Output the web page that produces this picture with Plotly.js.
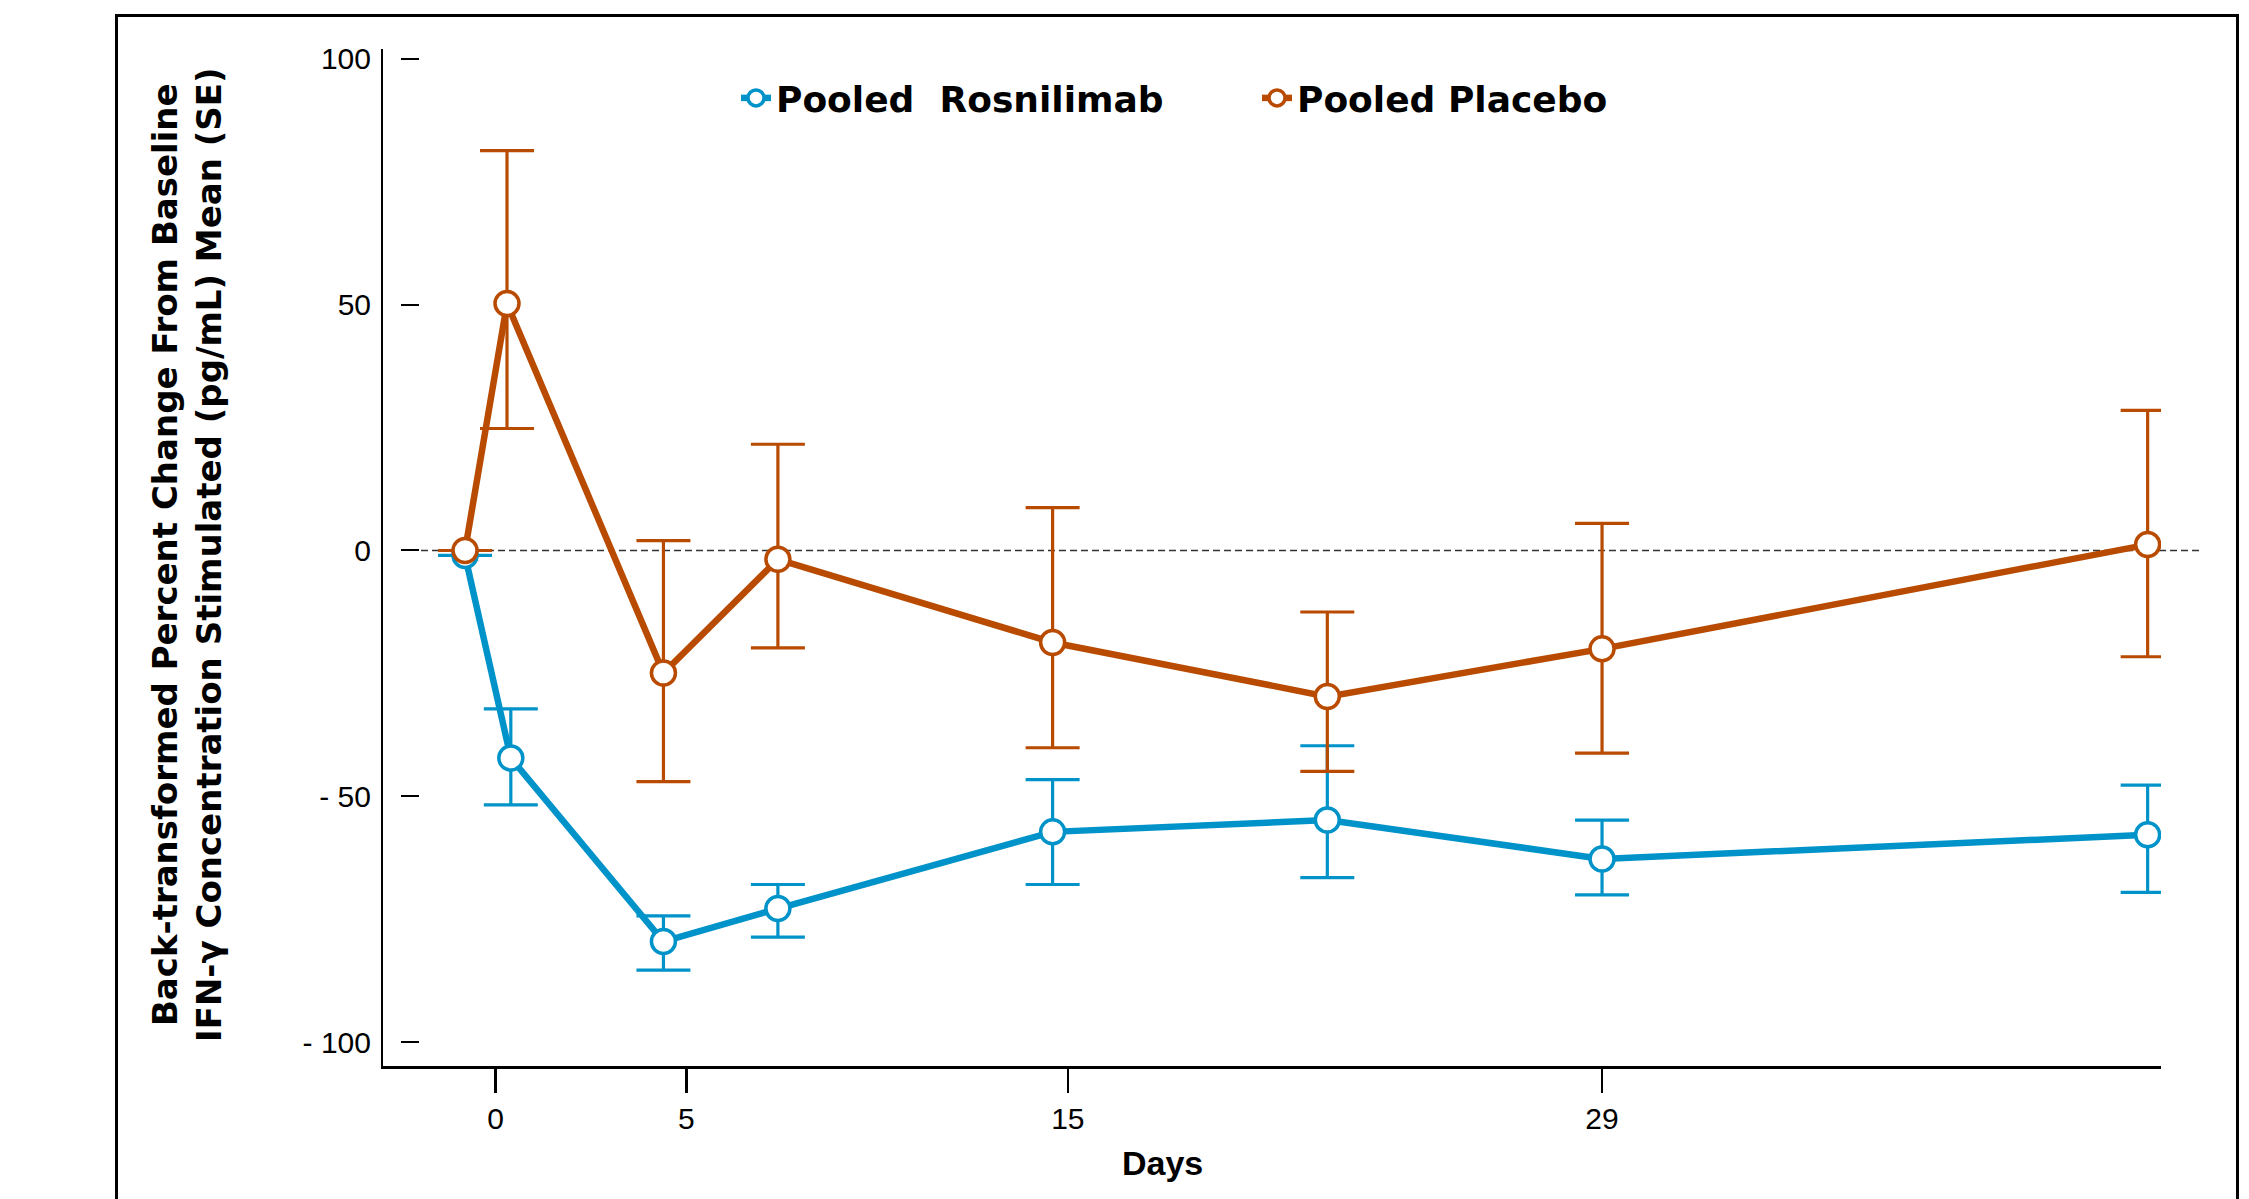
<!DOCTYPE html>
<html><head><meta charset="utf-8">
<script src="https://cdn.plot.ly/plotly-3.0.1.min.js"></script>
<style>
html,body{margin:0;padding:0;background:#fff;overflow:hidden}
#chart{width:2249px;height:1199px;position:absolute;left:0;top:0}
#frame{position:absolute;left:115px;top:14px;width:2124px;height:1300px;border:3px solid #000;border-bottom:none;box-sizing:border-box;pointer-events:none}
</style></head><body>
<div id="chart"></div><div id="frame"></div>
<script>
// ---- data ----
const seriesNames = ['Pooled\u00a0 Rosnilimab', 'Pooled Placebo'];
const daysRos  = [-0.8, 0.4, 4.4, 7.4, 14.6, 21.8, 29.0, 43.3];
const meanRos  = [-1.0, -42.2, -79.5, -72.8, -57.2, -54.8, -62.7, -57.8];
const upperRos = [-1.0, -32.2, -74.3, -67.9, -46.6, -39.7, -54.8, -47.7];
const lowerRos = [-1.0, -51.7, -85.3, -78.6, -67.9, -66.5, -70.0, -69.5];
const daysPla  = [-0.8, 0.3, 4.4, 7.4, 14.6, 21.8, 29.0, 43.3];
const meanPla  = [0.0, 50.2, -24.9, -1.8, -18.7, -29.7, -20.0, 1.2];
const upperPla = [0.0, 81.3, 2.0, 21.6, 8.7, -12.5, 5.5, 28.5];
const lowerPla = [0.0, 24.8, -47.0, -19.8, -40.1, -44.9, -41.2, -21.6];
const xTickVals = [0, 5, 15, 29];
const xTickText = ['0', '5', '15', '29'];
const yTickVals = [-100, -50, 0, 50, 100];
const yTickText = ['- 100', '- 50', '0', '50', '100'];
const xTitle = 'Days';
const yTitle = 'Back-transformed Percent Change From Baseline<br>IFN-\u03b3 Concentration Stimulated (pg/mL) Mean (SE)';

// ---- styling ----
const W = 2249, H = 1199;
const L = 383, R = 2161, T = 49, B = 1066;
const px2x = p => (p - L) / (R - L);
const px2y = p => (B - p) / (B - T);
const blue = '#0093C9', orange = '#B94B00';
const xRange = [-2.95, 43.65];
const yRange = [-104.8, 101.95];

function diff(a, b) { return a.map((v, i) => Math.abs(v - b[i])); }

function series(name, x, m, up, lo, color) {
  return {
    type: 'scatter', mode: 'lines+markers', name: name,
    x: x, y: m,
    line: {color: color, width: 6.5},
    marker: {symbol: 'circle', size: 24, color: '#ffffff', line: {color: color, width: 3.5}},
    error_y: {type: 'data', symmetric: false, array: diff(up, m), arrayminus: diff(m, lo),
              color: color, thickness: 3.2, width: 27},
    hoverinfo: 'x+y'
  };
}

const traces = [
  series(seriesNames[0], daysRos, meanRos, upperRos, lowerRos, blue),
  series(seriesNames[1], daysPla, meanPla, upperPla, lowerPla, orange),
  {type: 'scatter', mode: 'markers', x: [null], y: [null], yaxis: 'y2', showlegend: false, hoverinfo: 'skip'}
];

const tickFont = {family: 'Liberation Sans, Arial, sans-serif', size: 30, color: '#000'};

const layout = {
  width: W, height: H,
  margin: {l: L, r: W - R, t: T, b: H - B, pad: 0},
  paper_bgcolor: '#fff', plot_bgcolor: 'rgba(0,0,0,0)',
  showlegend: true,
  legend: {
    orientation: 'h', x: px2x(736), y: px2y(68), xanchor: 'left', yanchor: 'top',
    font: {family: 'DejaVu Sans, Verdana, sans-serif', size: 36, color: '#000', weight: 'bold'},
    entrywidth: 476, entrywidthmode: 'pixels',
    bgcolor: 'rgba(0,0,0,0)', borderwidth: 0, traceorder: 'normal'
  },
  xaxis: {
    range: xRange, autorange: false, showline: true, linecolor: '#000', linewidth: 2.5,
    ticks: 'outside', ticklen: 24, tickwidth: 2.5, tickcolor: '#000',
    tickvals: xTickVals, ticktext: xTickText, tickfont: tickFont,
    showgrid: false, zeroline: false, mirror: false
  },
  yaxis: {
    range: yRange, autorange: false, showline: true, linecolor: '#000', linewidth: 2,
    ticks: '', tickvals: yTickVals, ticktext: yTickText, tickfont: tickFont,
    ticklabelstandoff: 4,
    showgrid: false, zeroline: false
  },
  yaxis2: {
    overlaying: 'y', anchor: 'free', position: px2x(400), side: 'left',
    range: yRange, autorange: false, showline: false,
    ticks: 'inside', ticklen: 18, tickwidth: 2, tickcolor: '#000',
    tickvals: yTickVals, showticklabels: false, showgrid: false, zeroline: false
  },
  shapes: [{
    type: 'line', xref: 'paper', yref: 'y', x0: px2x(421), x1: px2x(2200), y0: 0, y1: 0,
    line: {color: '#333', width: 1.5, dash: '7px,4px'}, layer: 'below'
  }],
  annotations: [
    {text: xTitle, xref: 'paper', yref: 'paper', x: px2x(1162), y: px2y(1163),
     xanchor: 'center', yanchor: 'middle', showarrow: false,
     font: {family: 'Liberation Sans, Arial, sans-serif', size: 34, color: '#000', weight: 'bold'}},
    {text: yTitle, xref: 'paper', yref: 'paper', x: px2x(187), y: px2y(555),
     xanchor: 'center', yanchor: 'middle', showarrow: false, textangle: -90,
     font: {family: 'DejaVu Sans, Verdana, sans-serif', size: 34, color: '#000', weight: 'bold'}}
  ]
};

Plotly.newPlot('chart', traces, layout, {staticPlot: true, displayModeBar: false});
</script>
</body></html>
